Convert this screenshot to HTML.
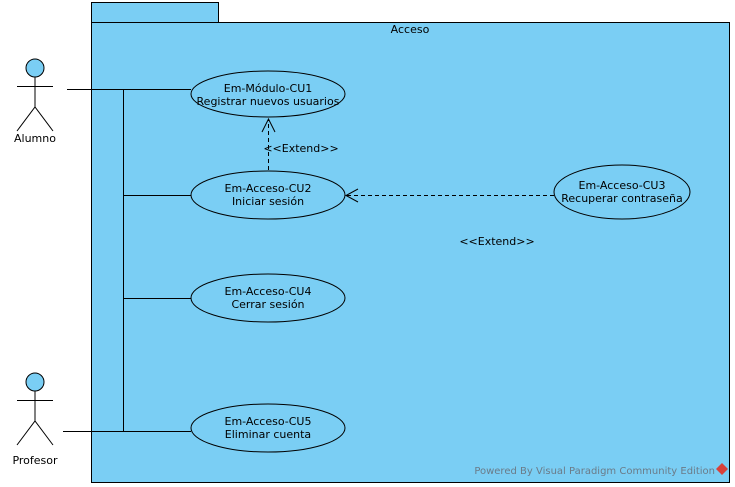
<!DOCTYPE html>
<html><head><meta charset="utf-8"><style>html,body{margin:0;padding:0;background:#fff;}svg{display:block;}</style></head><body>
<svg width="735" height="487" viewBox="0 0 735 487" xmlns="http://www.w3.org/2000/svg" font-family="'DejaVu Sans', 'Liberation Sans', sans-serif" font-size="11">
<rect x="91.5" y="2.5" width="127" height="20" fill="#7acef4" stroke="#000"/>
<rect x="91.5" y="22.5" width="638" height="460" fill="#7acef4" stroke="#000"/>
<text x="410" y="33" text-anchor="middle">Acceso</text>
<g stroke="#000" fill="none">
<line x1="67" y1="89.5" x2="191" y2="89.5"/>
<line x1="123.5" y1="89" x2="123.5" y2="431"/>
<line x1="123" y1="195.5" x2="191" y2="195.5"/>
<line x1="123" y1="298.5" x2="191" y2="298.5"/>
<line x1="63" y1="431.5" x2="191" y2="431.5"/>
<line x1="268.5" y1="170" x2="268.5" y2="120" stroke-dasharray="4,3"/>
<polyline points="262,132 268.5,119 275,132"/>
<line x1="554" y1="195.5" x2="347" y2="195.5" stroke-dasharray="4,3"/>
<polyline points="358,189 346,195.5 358,202"/>
</g>
<g fill="#7acef4" stroke="#000">
<ellipse cx="268" cy="94" rx="77" ry="23"/>
<ellipse cx="268" cy="195" rx="77" ry="24"/>
<ellipse cx="622" cy="192" rx="68" ry="27"/>
<ellipse cx="268" cy="298" rx="77" ry="24"/>
<ellipse cx="268" cy="428" rx="77" ry="24"/>
</g>
<g text-anchor="middle">
<text x="268" y="92">Em-Módulo-CU1</text><text x="268" y="105">Registrar nuevos usuarios</text>
<text x="268" y="192">Em-Acceso-CU2</text><text x="268" y="205">Iniciar sesión</text>
<text x="622" y="189">Em-Acceso-CU3</text><text x="622" y="202">Recuperar contraseña</text>
<text x="268" y="295">Em-Acceso-CU4</text><text x="268" y="308">Cerrar sesión</text>
<text x="268" y="425">Em-Acceso-CU5</text><text x="268" y="438">Eliminar cuenta</text>
<text x="301" y="152">&lt;&lt;Extend&gt;&gt;</text>
<text x="497" y="245">&lt;&lt;Extend&gt;&gt;</text>
<text x="35" y="142">Alumno</text>
<text x="35" y="464">Profesor</text>
</g>
<g stroke="#000" fill="none">
<circle cx="35" cy="68" r="9" fill="#7acef4"/>
<line x1="35" y1="77" x2="35" y2="107"/><line x1="17" y1="86.5" x2="53" y2="86.5"/>
<polyline points="17,131 35,107 53,131"/>
<circle cx="35" cy="382" r="9" fill="#7acef4"/>
<line x1="35" y1="391" x2="35" y2="421"/><line x1="17" y1="400.5" x2="53" y2="400.5"/>
<polyline points="17,445 35,421 53,445"/>
</g>
<text x="715" y="474" text-anchor="end" font-size="10" fill="#6b7b88">Powered By Visual Paradigm Community Edition</text>
<path d="M722,463 l6,6 l-6,6 l-6,-6z" fill="#d8413a"/>
</svg>
</body></html>
